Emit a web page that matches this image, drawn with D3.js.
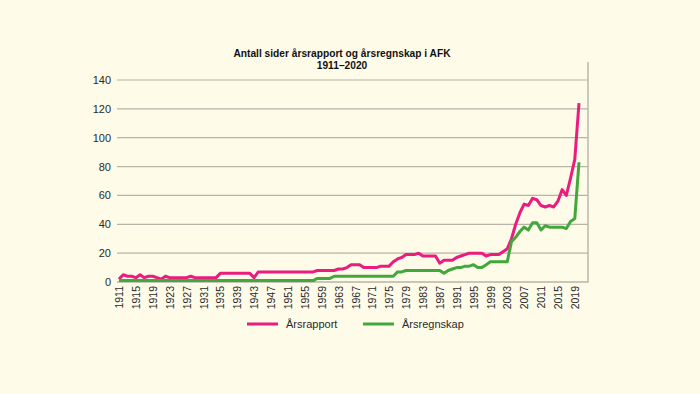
<!DOCTYPE html>
<html><head><meta charset="utf-8">
<script src="https://cdn.jsdelivr.net/npm/d3@7"></script>
<style>
html,body{margin:0;padding:0;background:#fefbe9;}
svg{display:block;font-family:"Liberation Sans",Arial,sans-serif;}
</style></head>
<body>
<svg id="chart" width="700" height="394"></svg>
<script>
const years = d3.range(1911, 2021);
const yTicks = [0, 20, 40, 60, 80, 100, 120, 140];
const xTickYears = d3.range(1911, 2021, 4);
const seriesNames = ["Årsrapport", "Årsregnskap"];
const seriesColors = ["#ec1b7e", "#43a83b"];

// Årsrapport 1911–2020
const arsrapport = [
  2,5,4,4,3,5,3,4,4,3,   // 1911-1920
  2,4,3,3,3,3,3,4,3,3,   // 1921-1930
  3,3,3,3,6,6,6,6,6,6,   // 1931-1940
  6,6,3,7,7,7,7,7,7,7,   // 1941-1950
  7,7,7,7,7,7,7,8,8,8,   // 1951-1960
  8,8,9,9,10,12,12,12,10,10, // 1961-1970
  10,10,11,11,11,14,16,17,19,19, // 1971-1980
  19,20,18,18,18,18,13,15,15,15, // 1981-1990
  17,18,19,20,20,20,20,18,19,19, // 1991-2000
  19,21,23,30,40,48,54,53,58,57, // 2001-2010
  53,52,53,52,56,64,60,72,85,124 // 2011-2020
];
// Årsregnskap 1911–2020
const arsregnskap = [
  1,1,1,1,1,1,1,1,1,1,
  1,1,1,1,1,1,1,1,1,1,
  1,1,1,1,1,1,1,1,1,1,
  1,1,1,1,1,1,1,1,1,1,
  1,1,1,1,1,1,1,2.5,2.5,2.5,
  2.5,4,4,4,4,4,4,4,4,4,
  4,4,4,4,4,4,7,7,8,8,
  8,8,8,8,8,8,8,6,8,9,
  10,10,11,11,12,10,10,12,14,14,
  14,14,14,28,31,35,38,36,41,41,
  36,39,38,38,38,38,37,42,44,83
];

const svg = d3.select("#chart");
const x = d3.scalePoint().domain(years).range([119, 579]);
const y = d3.scaleLinear().domain([0, 140]).range([282, 80]);
const plotLeft = 117, plotRight = 588, plotTop = 62;

// gridlines
svg.append("g").selectAll("line").data(yTicks.filter(d => d > 0)).join("line")
  .attr("x1", plotLeft).attr("x2", plotRight)
  .attr("y1", d => y(d)).attr("y2", d => y(d))
  .attr("stroke", "#b7b4a8").attr("stroke-width", 1.2);

// frame: bottom and right
svg.append("line").attr("x1", plotLeft).attr("x2", plotRight + 0.5)
  .attr("y1", y(0)).attr("y2", y(0)).attr("stroke", "#b7b4a8").attr("stroke-width", 1.4);
svg.append("line").attr("x1", plotRight).attr("x2", plotRight)
  .attr("y1", plotTop).attr("y2", y(0)).attr("stroke", "#b7b4a8").attr("stroke-width", 1.4);

// y axis labels
const yAxis = d3.axisLeft(y).tickValues(yTicks).tickSize(0).tickPadding(6);
const gy = svg.append("g").attr("transform", `translate(${plotLeft},0)`).call(yAxis);
gy.select(".domain").remove();
gy.selectAll("text").attr("font-size", 11).attr("fill", "#2a2a2a")
  .attr("font-family", '"Liberation Sans",Arial,sans-serif');

// x axis labels
const xAxis = d3.axisBottom(x).tickValues(xTickYears).tickSize(0).tickPadding(0);
const gx = svg.append("g").attr("transform", `translate(0,${y(0)})`).call(xAxis);
gx.select(".domain").remove();
gx.selectAll("text")
  .attr("font-size", 10.5).attr("fill", "#2a2a2a")
  .attr("font-family", '"Liberation Sans",Arial,sans-serif')
  .attr("transform", "rotate(-90)")
  .attr("text-anchor", "end")
  .attr("x", -4).attr("y", 0).attr("dy", "0.35em");

// lines
const line = d3.line().x((d, i) => x(years[i])).y(d => y(d));
[arsrapport, arsregnskap].forEach((vals, k) => {
  svg.append("path").datum(vals)
    .attr("d", line)
    .attr("fill", "none")
    .attr("stroke", seriesColors[k])
    .attr("stroke-width", 3)
    .attr("stroke-linejoin", "round");
});

// title
const title = svg.append("text").attr("x", 342).attr("y", 57)
  .attr("text-anchor", "middle").attr("font-weight", "bold")
  .attr("font-size", 10.2).attr("fill", "#111");
title.append("tspan").attr("x", 342).text("Antall sider årsrapport og årsregnskap i AFK");
title.append("tspan").attr("x", 342).attr("dy", 12).text("1911–2020");

// legend
const legendX = [247, 363];
seriesNames.forEach((n, k) => {
  svg.append("line").attr("x1", legendX[k]).attr("x2", legendX[k] + 31)
    .attr("y1", 324).attr("y2", 324)
    .attr("stroke", seriesColors[k]).attr("stroke-width", 3);
  svg.append("text").attr("x", legendX[k] + 39).attr("y", 328)
    .attr("font-size", 11).attr("fill", "#2a2a2a").text(n);
});
</script>
</body></html>
